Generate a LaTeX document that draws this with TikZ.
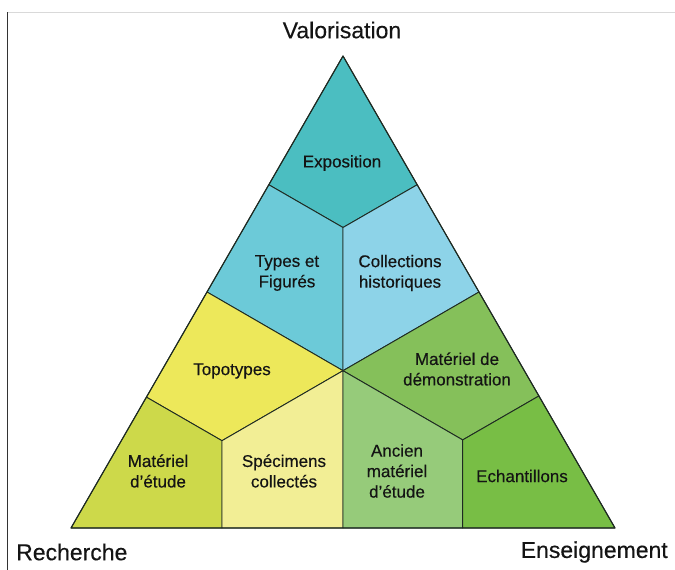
\documentclass[tikz,border=0pt]{standalone}
\usepackage{fontspec}
\setmainfont{Liberation Sans}
\newfontfamily\labelfont[FakeBold=0.35]{Liberation Sans}
\usetikzlibrary{calc}
\definecolor{cExpo}{HTML}{4BBEC1}
\definecolor{cTypes}{HTML}{6CCAD8}
\definecolor{cColl}{HTML}{8DD3E8}
\definecolor{cTopo}{HTML}{EDE85A}
\definecolor{cEtude}{HTML}{CDD94A}
\definecolor{cSpec}{HTML}{F2EE95}
\definecolor{cDemo}{HTML}{85C05A}
\definecolor{cAncien}{HTML}{96CB7A}
\definecolor{cEchant}{HTML}{78BE45}
\definecolor{edge}{HTML}{1E2A22}
\tikzset{
  region/.style={draw=edge, line width=0.9pt, line join=round},
  lbl/.style={align=center, font=\labelfont\fontsize{17}{20.5}\selectfont, text=black!92},
  pole/.style={font=\labelfont\fontsize{23}{27}\selectfont, text=black!92, inner sep=0pt},
}
\begin{document}
\begin{tikzpicture}[x=1pt,y=-1pt]
\useasboundingbox (0,0) rectangle (675,570);
% frame lines
\draw[gray!30, line width=0.8pt] (7,12) -- (675,12);
\draw[black!80, line width=0.8pt] (7,12) -- (7,570);

% triangle corners and centroid
\coordinate (A) at (343,56);
\coordinate (BL) at (71,528);
\coordinate (BR) at (615,528);
\coordinate (C) at (343,370.7);
% edge midpoints
\coordinate (Lm) at ($(A)!0.5!(BL)$);
\coordinate (Rm) at ($(A)!0.5!(BR)$);
\coordinate (Bm) at ($(BL)!0.5!(BR)$);
% inner points of the three kites
\coordinate (P) at ($(C)!0.455!(A)$);
\coordinate (Q) at ($(C)!0.445!(BL)$);
\coordinate (R) at ($(C)!0.44!(BR)$);
% perpendicular feet on the edges
\coordinate (Pl) at ($(A)!(P)!(BL)$);
\coordinate (Pr) at ($(A)!(P)!(BR)$);
\coordinate (Ql) at ($(A)!(Q)!(BL)$);
\coordinate (Qb) at ($(BL)!(Q)!(BR)$);
\coordinate (Rr) at ($(A)!(R)!(BR)$);
\coordinate (Rb) at ($(BL)!(R)!(BR)$);

% top kite
\filldraw[region, fill=cExpo] (A) -- (Pl) -- (P) -- (Pr) -- cycle;
\filldraw[region, fill=cTypes] (Pl) -- (Lm) -- (C) -- (P) -- cycle;
\filldraw[region, fill=cColl] (P) -- (C) -- (Rm) -- (Pr) -- cycle;
% left kite
\filldraw[region, fill=cTopo] (Lm) -- (Ql) -- (Q) -- (C) -- cycle;
\filldraw[region, fill=cEtude] (Ql) -- (BL) -- (Qb) -- (Q) -- cycle;
\filldraw[region, fill=cSpec] (Q) -- (Qb) -- (Bm) -- (C) -- cycle;
% right kite
\filldraw[region, fill=cDemo] (C) -- (R) -- (Rr) -- (Rm) -- cycle;
\filldraw[region, fill=cAncien] (C) -- (Bm) -- (Rb) -- (R) -- cycle;
\filldraw[region, fill=cEchant] (R) -- (Rb) -- (BR) -- (Rr) -- cycle;
% outline
\draw[region, line width=1.1pt] (A) -- (BL) -- (BR) -- cycle;

% region labels
\node[lbl] (expo) at (342,163) {Exposition};
\node[lbl] (types) at (287,273) {Types et\\Figurés};
\node[lbl] (coll) at (400,273) {Collections\\historiques};
\node[lbl] (topo) at (232,371) {Topotypes};
\node[lbl] (etude) at (158,471) {Matériel\\d’étude};
\node[lbl] (spec) at (284,471) {Spécimens\\collectés};
\node[lbl] (demo) at (457,369) {Matériel de\\démonstration};
\node[lbl] (ancien) at (397,471) {Ancien\\matériel\\d’étude};
\node[lbl] (echant) at (522,476) {Echantillons};

% poles
\node[pole] (valo) at (342,30) {Valorisation};
\node[pole, anchor=west] (rech) at (16,552) {Recherche};
\node[pole, anchor=east] (ens) at (668,552) {Enseignement};
\end{tikzpicture}
\end{document}
